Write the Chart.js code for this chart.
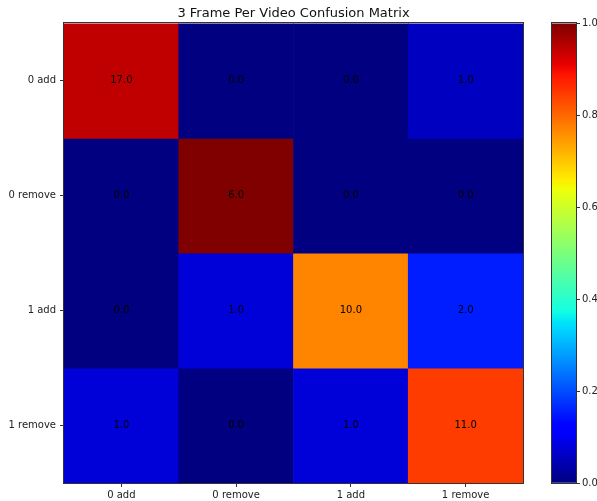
<!DOCTYPE html>
<html>
<head>
<meta charset="utf-8">
<script src="https://cdn.jsdelivr.net/npm/chart.js@4.4.1/dist/chart.umd.min.js"></script>
<style>
  body { margin: 0; background: #fff; }
  #wrap { position: relative; width: 597px; height: 501px; overflow: hidden; }
  #matrix { position: absolute; left: 0; top: 0; }
  #cbar { position: absolute; left: 540px; top: 0; }
</style>
</head>
<body>
<div id="wrap">
  <canvas id="matrix" width="586" height="501"></canvas>
  <canvas id="cbar" width="57" height="501"></canvas>
</div>
<script>
// Confusion matrix data (rows = true class, cols = predicted)
const classLabels = ['0 add', '0 remove', '1 add', '1 remove'];
const addZero = [17, 0, 0, 1];
const removeZero = [0, 6, 0, 0];
const addOne = [0, 1, 10, 2];
const removeOne = [1, 0, 1, 11];
const matrixRows = [addZero, removeZero, addOne, removeOne];
const colorbarTicks = [0, 0.2, 0.4, 0.6, 0.8, 1.0];
const titleText = '3 Frame Per Video Confusion Matrix';

const FONT = 'DejaVu Sans';

// matplotlib 'jet' colormap
function lerpTable(v, table) {
  for (let i = 1; i < table.length; i++) {
    if (v <= table[i][0]) {
      const [x0, y0] = table[i - 1], [x1, y1] = table[i];
      return y0 + (y1 - y0) * (v - x0) / (x1 - x0);
    }
  }
  return table[table.length - 1][1];
}
function jet(v) {
  const r = lerpTable(v, [[0, 0], [0.35, 0], [0.66, 1], [0.89, 1], [1, 0.5]]);
  const g = lerpTable(v, [[0, 0], [0.125, 0], [0.375, 1], [0.64, 1], [0.91, 0], [1, 0]]);
  const b = lerpTable(v, [[0, 0.5], [0.11, 1], [0.34, 1], [0.65, 0], [1, 0]]);
  return `rgb(${Math.round(r * 255)},${Math.round(g * 255)},${Math.round(b * 255)})`;
}

// axes frame (spines)
const framePlugin = {
  id: 'frame',
  afterDraw(chart) {
    const { ctx, chartArea: a } = chart;
    ctx.save();
    ctx.strokeStyle = '#333';
    ctx.lineWidth = 1;
    ctx.strokeRect(Math.round(a.left) - 0.5, Math.round(a.top) - 0.5,
      Math.round(a.right - a.left) + 1, Math.round(a.bottom - a.top) + 1);
    ctx.restore();
  }
};

// title centred over the plot area, like matplotlib
const axesTitle = {
  id: 'axesTitle',
  afterDraw(chart) {
    const { ctx, chartArea: a } = chart;
    ctx.save();
    ctx.font = `13px "${FONT}"`;
    ctx.fillStyle = '#111';
    ctx.textAlign = 'center';
    ctx.textBaseline = 'alphabetic';
    ctx.fillText(titleText, (a.left + a.right) / 2, a.top - 6);
    ctx.restore();
  }
};

// value text in each cell
const cellText = {
  id: 'cellText',
  afterDatasetsDraw(chart) {
    const { ctx } = chart;
    ctx.save();
    ctx.font = `10px "${FONT}"`;
    ctx.fillStyle = '#000';
    ctx.textAlign = 'center';
    ctx.textBaseline = 'middle';
    chart.data.datasets.forEach((ds, r) => {
      chart.getDatasetMeta(r).data.forEach((bar, c) => {
        ctx.fillText(matrixRows[r][c].toFixed(1), bar.x, (bar.y + bar.base) / 2);
      });
    });
    ctx.restore();
  }
};

const datasets = matrixRows.map((row, r) => {
  const total = row.reduce((s, v) => s + v, 0);
  return {
    label: classLabels[r],
    data: row.map(() => 1),
    backgroundColor: row.map(v => jet(v / total)),
    borderWidth: 0,
    barPercentage: 1,
    categoryPercentage: 1
  };
});

new Chart(document.getElementById('matrix'), {
  type: 'bar',
  data: { labels: classLabels, datasets },
  options: {
    responsive: false,
    animation: false,
    layout: { padding: { left: 0, right: 63, top: 23.4, bottom: 0 } },
    plugins: {
      legend: { display: false },
      tooltip: { enabled: false },
      title: { display: false }
    },
    scales: {
      x: {
        stacked: true,
        border: { display: false },
        grid: { offset: false, drawOnChartArea: false, drawTicks: true, tickLength: 4, color: '#333' },
        ticks: { color: '#222', font: { family: FONT, size: 10 }, padding: 2, maxRotation: 0 },
        afterFit(scale) { scale.height = 18; }
      },
      y: {
        stacked: true,
        reverse: true,
        min: 0,
        max: classLabels.length,
        border: { display: false },
        grid: { drawOnChartArea: false, drawTicks: true, tickLength: 4, color: '#333' },
        ticks: {
          color: '#222',
          font: { family: FONT, size: 10 },
          padding: 4,
          callback: v => classLabels[Math.floor(v)]
        },
        afterBuildTicks(scale) {
          scale.ticks = classLabels.map((_, i) => ({ value: i + 0.5 }));
        },
        afterFit(scale) { scale.width = 64; }
      }
    }
  },
  plugins: [framePlugin, cellText, axesTitle]
});

// colorbar
new Chart(document.getElementById('cbar'), {
  type: 'bar',
  data: {
    labels: [''],
    datasets: [{
      data: [1],
      barPercentage: 1,
      categoryPercentage: 1,
      borderWidth: 0,
      backgroundColor(context) {
        const { chart } = context;
        const a = chart.chartArea;
        if (!a) return 'rgba(0,0,0,0)';
        const g = chart.ctx.createLinearGradient(0, a.bottom, 0, a.top);
        for (let i = 0; i <= 100; i++) g.addColorStop(i / 100, jet(i / 100));
        return g;
      }
    }]
  },
  options: {
    responsive: false,
    animation: false,
    layout: { padding: { left: 12, top: 23.4, bottom: 18 } },
    plugins: { legend: { display: false }, tooltip: { enabled: false } },
    scales: {
      x: { display: false },
      y: {
        position: 'right',
        min: 0,
        max: 1,
        border: { display: false },
        grid: { drawOnChartArea: false, drawTicks: true, tickLength: 4, color: '#333' },
        ticks: {
          color: '#222',
          font: { family: FONT, size: 10 },
          padding: 2,
          callback: v => Number(v).toFixed(1)
        },
        afterBuildTicks(scale) {
          scale.ticks = colorbarTicks.map(v => ({ value: v }));
        },
        afterFit(scale) { scale.width = 21; }
      }
    }
  },
  plugins: [framePlugin]
});
</script>
</body>
</html>
